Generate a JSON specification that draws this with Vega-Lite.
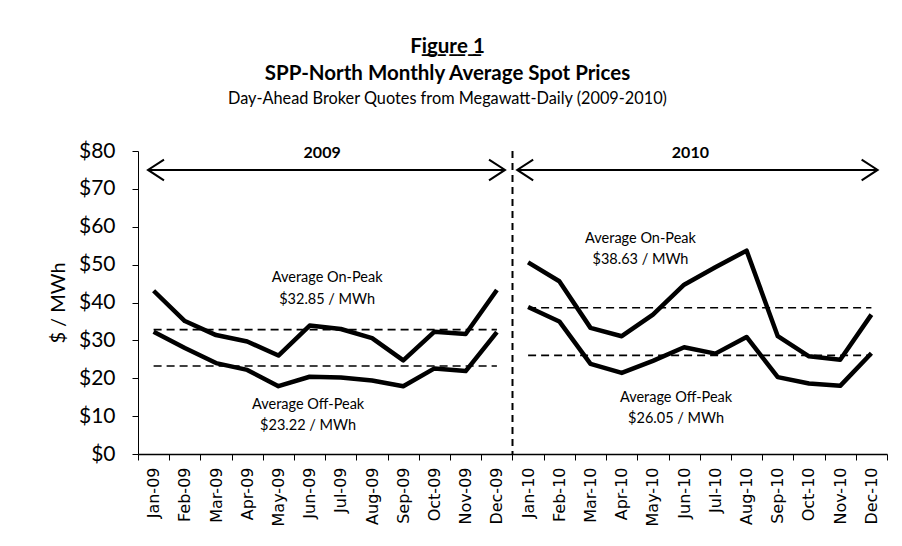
{
  "$schema": "https://vega.github.io/schema/vega-lite/v6.json",
  "autosize": "none",
  "width": 749,
  "height": 303,
  "padding": {"left": 138, "top": 151, "right": 15, "bottom": 92},
  "background": "white",
  "config": {"font": "Lato", "view": {"stroke": null}, "axisY": {"labelOverlap": false}, "axis": {"labelOverlap": false}},
  "title": {
    "text": ["F\u0332i\u0332g\u0332u\u0332r\u0332e\u0332 \u03321", "SPP-North Monthly Average Spot Prices"],
    "subtitle": "Day-Ahead Broker Quotes from Megawatt-Daily (2009-2010)",
    "anchor": "middle",
    "frame": "group",
    "dx": -65,
    "font": "Lato",
    "fontSize": 20.5,
    "fontWeight": "bold",
    "lineHeight": 27,
    "color": "black",
    "subtitleFont": "Lato",
    "subtitleFontSize": 16.3,
    "subtitleColor": "black",
    "subtitlePadding": 6,
    "offset": 33
  },
  "datasets": {
    "prices": [
      {"month": "Jan-09", "year": "2009", "series": "On-Peak", "value": 43.1},
      {"month": "Feb-09", "year": "2009", "series": "On-Peak", "value": 35.1},
      {"month": "Mar-09", "year": "2009", "series": "On-Peak", "value": 31.4},
      {"month": "Apr-09", "year": "2009", "series": "On-Peak", "value": 29.7},
      {"month": "May-09", "year": "2009", "series": "On-Peak", "value": 26.0},
      {"month": "Jun-09", "year": "2009", "series": "On-Peak", "value": 33.9},
      {"month": "Jul-09", "year": "2009", "series": "On-Peak", "value": 33.0},
      {"month": "Aug-09", "year": "2009", "series": "On-Peak", "value": 30.6},
      {"month": "Sep-09", "year": "2009", "series": "On-Peak", "value": 24.7},
      {"month": "Oct-09", "year": "2009", "series": "On-Peak", "value": 32.3},
      {"month": "Nov-09", "year": "2009", "series": "On-Peak", "value": 31.7},
      {"month": "Dec-09", "year": "2009", "series": "On-Peak", "value": 43.3},
      {"month": "Jan-10", "year": "2010", "series": "On-Peak", "value": 50.6},
      {"month": "Feb-10", "year": "2010", "series": "On-Peak", "value": 45.6},
      {"month": "Mar-10", "year": "2010", "series": "On-Peak", "value": 33.3},
      {"month": "Apr-10", "year": "2010", "series": "On-Peak", "value": 31.1},
      {"month": "May-10", "year": "2010", "series": "On-Peak", "value": 36.8},
      {"month": "Jun-10", "year": "2010", "series": "On-Peak", "value": 44.7},
      {"month": "Jul-10", "year": "2010", "series": "On-Peak", "value": 49.3},
      {"month": "Aug-10", "year": "2010", "series": "On-Peak", "value": 53.7},
      {"month": "Sep-10", "year": "2010", "series": "On-Peak", "value": 31.1},
      {"month": "Oct-10", "year": "2010", "series": "On-Peak", "value": 25.8},
      {"month": "Nov-10", "year": "2010", "series": "On-Peak", "value": 24.9},
      {"month": "Dec-10", "year": "2010", "series": "On-Peak", "value": 36.8},
      {"month": "Jan-09", "year": "2009", "series": "Off-Peak", "value": 32.3},
      {"month": "Feb-09", "year": "2009", "series": "Off-Peak", "value": 28.0},
      {"month": "Mar-09", "year": "2009", "series": "Off-Peak", "value": 24.0},
      {"month": "Apr-09", "year": "2009", "series": "Off-Peak", "value": 22.2},
      {"month": "May-09", "year": "2009", "series": "Off-Peak", "value": 17.9},
      {"month": "Jun-09", "year": "2009", "series": "Off-Peak", "value": 20.4},
      {"month": "Jul-09", "year": "2009", "series": "Off-Peak", "value": 20.2},
      {"month": "Aug-09", "year": "2009", "series": "Off-Peak", "value": 19.4},
      {"month": "Sep-09", "year": "2009", "series": "Off-Peak", "value": 17.9},
      {"month": "Oct-09", "year": "2009", "series": "Off-Peak", "value": 22.6},
      {"month": "Nov-09", "year": "2009", "series": "Off-Peak", "value": 21.9},
      {"month": "Dec-09", "year": "2009", "series": "Off-Peak", "value": 32.2},
      {"month": "Jan-10", "year": "2010", "series": "Off-Peak", "value": 38.8},
      {"month": "Feb-10", "year": "2010", "series": "Off-Peak", "value": 35.0},
      {"month": "Mar-10", "year": "2010", "series": "Off-Peak", "value": 23.8},
      {"month": "Apr-10", "year": "2010", "series": "Off-Peak", "value": 21.4},
      {"month": "May-10", "year": "2010", "series": "Off-Peak", "value": 24.6},
      {"month": "Jun-10", "year": "2010", "series": "Off-Peak", "value": 28.2},
      {"month": "Jul-10", "year": "2010", "series": "Off-Peak", "value": 26.5},
      {"month": "Aug-10", "year": "2010", "series": "Off-Peak", "value": 30.9},
      {"month": "Sep-10", "year": "2010", "series": "Off-Peak", "value": 20.3},
      {"month": "Oct-10", "year": "2010", "series": "Off-Peak", "value": 18.6},
      {"month": "Nov-10", "year": "2010", "series": "Off-Peak", "value": 18.0},
      {"month": "Dec-10", "year": "2010", "series": "Off-Peak", "value": 26.6}
    ],
    "averages": [
      {"year": "2009", "series": "On-Peak", "start": 0.5, "end": 11.5, "value": 32.85},
      {"year": "2009", "series": "Off-Peak", "start": 0.5, "end": 11.5, "value": 23.22},
      {"year": "2010", "series": "On-Peak", "start": 12.5, "end": 23.5, "value": 38.63},
      {"year": "2010", "series": "Off-Peak", "start": 12.5, "end": 23.5, "value": 26.05}
    ],
    "divider": [{"pos": 12}],
    "arrows": [
      {"year": "2009", "start": 0.32, "end": 11.76, "value": 75},
      {"year": "2010", "start": 12.15, "end": 23.7, "value": 75}
    ],
    "heads": [
      {"pos": 0.32, "value": 75, "dir": "left"},
      {"pos": 11.76, "value": 75, "dir": "right"},
      {"pos": 12.15, "value": 75, "dir": "left"},
      {"pos": 23.7, "value": 75, "dir": "right"}
    ],
    "years": [
      {"pos": 5.9, "value": 79.6, "label": "2009"},
      {"pos": 17.7, "value": 79.6, "label": "2010"}
    ],
    "notes": [
      {"pos": 6.06, "value": 46.4, "label": "Average On-Peak"},
      {"pos": 6.06, "value": 40.6, "label": "$32.85 / MWh"},
      {"pos": 5.45, "value": 12.9, "label": "Average Off-Peak"},
      {"pos": 5.45, "value": 7.4, "label": "$23.22 / MWh"},
      {"pos": 16.1, "value": 56.7, "label": "Average On-Peak"},
      {"pos": 16.1, "value": 51.2, "label": "$38.63 / MWh"},
      {"pos": 17.24, "value": 14.8, "label": "Average Off-Peak"},
      {"pos": 17.24, "value": 9.2, "label": "$26.05 / MWh"}
    ]
  },
  "resolve": {"scale": {"x": "independent"}},
  "layer": [
    {
      "data": {"name": "prices"},
      "mark": {"type": "line", "color": "black", "strokeWidth": 4.5, "strokeJoin": "round"},
      "encoding": {
        "x": {
          "field": "month",
          "type": "nominal",
          "sort": null,
          "bandPosition": 0.5,
          "scale": {"type": "band", "paddingInner": 0, "paddingOuter": 0},
          "axis": {
            "title": null,
            "labelAngle": 270,
            "labelFont": "DejaVu Sans",
            "labelFontSize": 16,
            "labelColor": "black",
            "labelPadding": 7,
            "tickBand": "extent",
            "tickSize": 6,
            "tickColor": "black",
            "domainColor": "black",
            "domainWidth": 1.5,
            "grid": false
          }
        },
        "y": {
          "field": "value",
          "type": "quantitative",
          "scale": {"domain": [0, 80], "nice": false},
          "axis": {
            "title": "$ / MWh",
            "titleFont": "Lato",
            "titleFontSize": 20,
            "titleFontWeight": "normal",
            "titleColor": "black",
            "titlePadding": 14,
            "tickCount": 8,
            "format": "$.0f",
            "labelFont": "Lato",
            "labelFontSize": 21,
            "labelColor": "black",
            "labelPadding": 17,
            "labelOverlap": false,
            "labelFlush": false,
            "tickSize": 6,
            "tickColor": "black",
            "domainColor": "black",
            "minExtent": 56,
            "maxExtent": 56,
            "grid": false
          }
        },
        "detail": [{"field": "series"}, {"field": "year"}]
      }
    },
    {
      "data": {"name": "averages"},
      "mark": {"type": "rule", "color": "black", "strokeWidth": 1.6, "strokeDash": [8, 5]},
      "encoding": {
        "x": {"field": "start", "type": "quantitative", "scale": {"domain": [0, 24], "nice": false, "zero": false}, "axis": null},
        "x2": {"field": "end"},
        "y": {"field": "value", "type": "quantitative"}
      }
    },
    {
      "data": {"name": "divider"},
      "mark": {"type": "rule", "color": "black", "strokeWidth": 2, "strokeDash": [7, 5]},
      "encoding": {
        "x": {"field": "pos", "type": "quantitative", "scale": {"domain": [0, 24], "nice": false, "zero": false}, "axis": null}
      }
    },
    {
      "data": {"name": "arrows"},
      "mark": {"type": "rule", "color": "black", "strokeWidth": 2},
      "encoding": {
        "x": {"field": "start", "type": "quantitative", "scale": {"domain": [0, 24], "nice": false, "zero": false}, "axis": null},
        "x2": {"field": "end"},
        "y": {"field": "value", "type": "quantitative"}
      }
    },
    {
      "data": {"name": "heads"},
      "mark": {"type": "point", "filled": false, "stroke": "black", "strokeWidth": 2, "size": 1024, "opacity": 1},
      "encoding": {
        "x": {"field": "pos", "type": "quantitative", "scale": {"domain": [0, 24], "nice": false, "zero": false}, "axis": null},
        "y": {"field": "value", "type": "quantitative"},
        "shape": {
          "field": "dir",
          "type": "nominal",
          "scale": {"domain": ["left", "right"], "range": ["M1,-0.65L0,0L1,0.65", "M-1,-0.65L0,0L-1,0.65"]},
          "legend": null
        }
      }
    },
    {
      "data": {"name": "years"},
      "mark": {"type": "text", "font": "Lato", "fontSize": 16, "fontWeight": "bold", "color": "black", "baseline": "middle"},
      "encoding": {
        "x": {"field": "pos", "type": "quantitative", "scale": {"domain": [0, 24], "nice": false, "zero": false}, "axis": null},
        "y": {"field": "value", "type": "quantitative"},
        "text": {"field": "label"}
      }
    },
    {
      "data": {"name": "notes"},
      "mark": {"type": "text", "font": "Lato", "fontSize": 14.5, "color": "black", "baseline": "middle"},
      "encoding": {
        "x": {"field": "pos", "type": "quantitative", "scale": {"domain": [0, 24], "nice": false, "zero": false}, "axis": null},
        "y": {"field": "value", "type": "quantitative"},
        "text": {"field": "label"}
      }
    }
  ]
}
